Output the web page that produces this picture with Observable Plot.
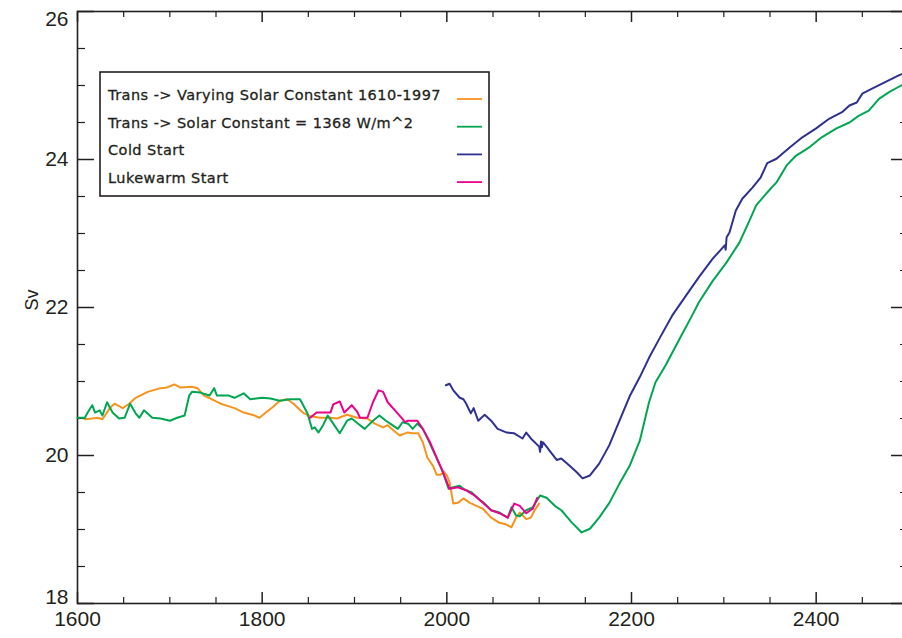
<!DOCTYPE html>
<html><head><meta charset="utf-8">
<script src="https://cdn.jsdelivr.net/npm/d3@7"></script>
<script src="https://cdn.jsdelivr.net/npm/@observablehq/plot@0.6"></script>
<style>
body{margin:0;background:#fff;overflow:hidden}
#chart svg{display:block;overflow:hidden}
</style>
</head><body><div id="chart"></div>
<script>
// ---- Data ----
const orangeYears = [1608,1616,1622,1627,1635,1640,1649,1656,1663,1676,1690,1697,1705,1711,1724,1730,1737,1744,1755,1770,1780,1792,1797,1805,1812,1819,1827,1834,1844,1852,1863,1874,1881,1892,1903,1914,1922,1931,1936,1942,1949,1957,1963,1969,1974,1979,1985,1989,1993,1997,2000,2003,2007,2012,2018,2025,2032,2039,2048,2057,2064,2070,2075,2079,2086,2091,2095,2100];
const orangeValues = [20.49,20.50,20.51,20.49,20.64,20.70,20.64,20.70,20.78,20.86,20.91,20.92,20.96,20.92,20.93,20.91,20.81,20.77,20.70,20.64,20.58,20.54,20.51,20.59,20.66,20.74,20.76,20.70,20.58,20.53,20.51,20.51,20.50,20.55,20.51,20.50,20.43,20.38,20.41,20.34,20.27,20.31,20.30,20.30,20.18,19.97,19.86,19.74,19.74,19.78,19.73,19.64,19.35,19.36,19.42,19.36,19.32,19.28,19.16,19.09,19.07,19.03,19.16,19.23,19.14,19.16,19.26,19.35];

const greenYears = [1600,1608,1611,1616,1619,1624,1627,1632,1638,1645,1651,1657,1663,1667,1672,1681,1690,1700,1708,1716,1721,1724,1733,1743,1748,1751,1764,1770,1780,1787,1800,1809,1819,1830,1841,1849,1854,1857,1861,1866,1871,1877,1884,1892,1897,1904,1911,1920,1927,1934,1941,1947,1952,1958,1963,1968,1974,1981,1985,1995,2002,2007,2014,2019,2027,2034,2041,2048,2057,2066,2070,2075,2079,2086,2093,2101,2108,2117,2124,2135,2146,2155,2165,2176,2187,2198,2209,2219,2226,2237,2251,2266,2273,2288,2303,2317,2328,2335,2346,2357,2368,2378,2392,2406,2422,2436,2446,2457,2468,2479,2492,2500];
const greenValues = [20.51,20.51,20.58,20.68,20.58,20.61,20.54,20.72,20.58,20.50,20.51,20.70,20.57,20.51,20.61,20.51,20.50,20.47,20.51,20.54,20.81,20.86,20.85,20.81,20.91,20.81,20.81,20.78,20.84,20.76,20.78,20.77,20.74,20.76,20.76,20.57,20.36,20.38,20.31,20.41,20.54,20.43,20.30,20.47,20.50,20.43,20.36,20.47,20.54,20.47,20.41,20.36,20.45,20.43,20.36,20.43,20.36,20.18,20.07,19.80,19.55,19.57,19.59,19.54,19.50,19.42,19.35,19.26,19.23,19.16,19.30,19.19,19.18,19.26,19.30,19.46,19.43,19.32,19.26,19.10,18.96,19.01,19.16,19.36,19.62,19.86,20.20,20.72,20.99,21.22,21.55,21.90,22.07,22.36,22.61,22.88,23.18,23.38,23.54,23.69,23.92,24.05,24.16,24.30,24.42,24.50,24.59,24.66,24.82,24.91,25.00,25.04];

const blueYears = [1999,2003,2007,2014,2018,2021,2026,2029,2034,2041,2048,2055,2065,2073,2082,2086,2091,2100,2101,2102,2103,2104,2108,2111,2119,2124,2133,2141,2147,2155,2165,2176,2187,2198,2209,2219,2232,2244,2259,2273,2288,2301,2302,2303,2306,2313,2320,2331,2340,2347,2357,2371,2385,2400,2414,2428,2436,2444,2450,2461,2472,2490,2500];
const blueValues = [20.95,20.97,20.88,20.78,20.76,20.70,20.57,20.64,20.47,20.55,20.47,20.36,20.31,20.30,20.23,20.31,20.23,20.12,20.05,20.19,20.11,20.18,20.12,20.07,19.94,19.96,19.86,19.77,19.69,19.73,19.89,20.14,20.47,20.80,21.06,21.32,21.62,21.89,22.16,22.41,22.66,22.84,22.78,22.95,23.01,23.31,23.47,23.62,23.76,23.95,24.01,24.16,24.30,24.42,24.55,24.64,24.73,24.77,24.89,24.96,25.03,25.14,25.19];

const pinkYears = [1852,1859,1870,1874,1877,1884,1889,1897,1903,1906,1914,1920,1926,1931,1936,1946,1955,1958,1968,1974,1981,1987,1995,2003,2012,2021,2030,2039,2048,2057,2066,2073,2079,2086,2093,2098];
const pinkValues = [20.51,20.58,20.58,20.58,20.69,20.73,20.58,20.68,20.59,20.51,20.51,20.72,20.88,20.86,20.72,20.58,20.45,20.47,20.47,20.36,20.20,20.03,19.80,19.55,19.57,19.53,19.46,19.36,19.26,19.22,19.16,19.35,19.32,19.22,19.28,19.43];

const seriesNames = ["Trans -> Varying Solar Constant 1610-1997","Trans -> Solar Constant = 1368 W/m^2","Cold Start","Lukewarm Start"];
const seriesColors = ["#F7941D","#00A651","#2E3192","#EC008C"];

const xMajorTicks = [1600,1800,2000,2200,2400];
const xMinorTicks = [1650,1700,1750,1850,1900,1950,2050,2100,2150,2250,2300,2350,2450];
const yMajorTicks = [18,20,22,24,26];
const yMinorTicks = [18.5,19,19.5,20.5,21,21.5,22.5,23,23.5,24.5,25,25.5];
const yLabel = "Sv";

// ---- Build ----
const rows = (years, values) => years.map((x, i) => ({x, y: values[i]}));
const orange = rows(orangeYears, orangeValues);
const green = rows(greenYears, greenValues);
const blue = rows(blueYears, blueValues);
const pink = rows(pinkYears, pinkValues);

const W = 902, H = 638, mL = 77, mT = 11, mB = 35, mR = -6;
const pH = H - mT - mB;
const pW = W - mL - mR;
const ink = "#231F20";
const tickFont = "Liberation Sans, Arial, Helvetica, sans-serif";

const yMid = yMajorTicks.slice(1, -1);
const yLow = [yMajorTicks[0]];
const yHigh = [yMajorTicks[yMajorTicks.length - 1]];

const chart = Plot.plot({
  width: W, height: H,
  marginLeft: mL, marginTop: mT, marginBottom: mB, marginRight: mR,
  style: {background: "#fff", fontFamily: tickFont},
  x: {domain: [1600, 2500], axis: null},
  y: {domain: [18, 26], axis: null},
  marks: [
    // ticks, inward, on all four sides
    Plot.tickX(xMajorTicks, {x: d => d, stroke: ink, strokeWidth: 1.5, insetTop: pH - 11}),
    Plot.tickX(xMinorTicks, {x: d => d, stroke: ink, strokeWidth: 1.2, insetTop: pH - 6}),
    Plot.tickX(xMajorTicks, {x: d => d, stroke: ink, strokeWidth: 1.5, insetBottom: pH - 11}),
    Plot.tickX(xMinorTicks, {x: d => d, stroke: ink, strokeWidth: 1.2, insetBottom: pH - 6}),
    Plot.tickY(yMajorTicks, {y: d => d, stroke: ink, strokeWidth: 1.5, insetRight: pW - 17}),
    Plot.tickY(yMinorTicks, {y: d => d, stroke: ink, strokeWidth: 1.2, insetRight: pW - 8}),
    Plot.tickY(yMajorTicks, {y: d => d, stroke: ink, strokeWidth: 1.5, insetLeft: pW - 17}),
    Plot.tickY(yMinorTicks, {y: d => d, stroke: ink, strokeWidth: 1.2, insetLeft: pW - 8}),
    Plot.frame({stroke: ink, strokeWidth: 1.6}),
    // tick labels
    Plot.text(xMajorTicks, {x: d => d, text: d => String(d), frameAnchor: "bottom", dy: 22, fontSize: 21, fill: ink}),
    Plot.text(yMid, {y: d => d, text: d => String(d), frameAnchor: "left", textAnchor: "end", dx: -9, fontSize: 21, fill: ink}),
    Plot.text(yLow, {y: d => d, text: d => String(d), frameAnchor: "left", textAnchor: "end", lineAnchor: "bottom", dx: -9, fontSize: 21, fill: ink}),
    Plot.text(yHigh, {y: d => d, text: d => String(d), frameAnchor: "left", textAnchor: "end", lineAnchor: "top", dx: -9, fontSize: 21, fill: ink}),
    Plot.text([yLabel], {frameAnchor: "left", dx: -45, dy: 3, rotate: -90, fontSize: 18, fill: ink}),
    // series
    Plot.line(orange, {x: "x", y: "y", stroke: seriesColors[0], strokeWidth: 2}),
    Plot.line(green, {x: "x", y: "y", stroke: seriesColors[1], strokeWidth: 2}),
    Plot.line(blue, {x: "x", y: "y", stroke: seriesColors[2], strokeWidth: 2}),
    Plot.line(pink, {x: "x", y: "y", stroke: seriesColors[3], strokeWidth: 2})
  ]
});

document.getElementById("chart").appendChild(chart);

// ---- Legend box inside the plot ----
const svg = d3.select(chart);
const lg = svg.append("g")
  .attr("font-family", "DejaVu Sans, Verdana, sans-serif")
  .attr("font-size", 14.5)
  .attr("letter-spacing", "0.45px")
  .attr("text-anchor", "start")
  .attr("fill", ink);
lg.append("rect").attr("x", 100).attr("y", 72).attr("width", 389).attr("height", 124)
  .attr("fill", "#fff").attr("stroke", ink).attr("stroke-width", 1.6);
seriesNames.forEach((name, i) => {
  const cy = 95 + i * 27.7;
  lg.append("text").attr("x", 108).attr("y", cy).attr("dy", "0.35em")
    .attr("text-anchor", "start")
    .attr("stroke", ink).attr("stroke-width", 0.3)
    .text(name);
  lg.append("line").attr("x1", 457).attr("x2", 482).attr("y1", cy + 4).attr("y2", cy + 4)
    .attr("stroke", seriesColors[i]).attr("stroke-width", 1.8);
});
</script>
</body></html>
